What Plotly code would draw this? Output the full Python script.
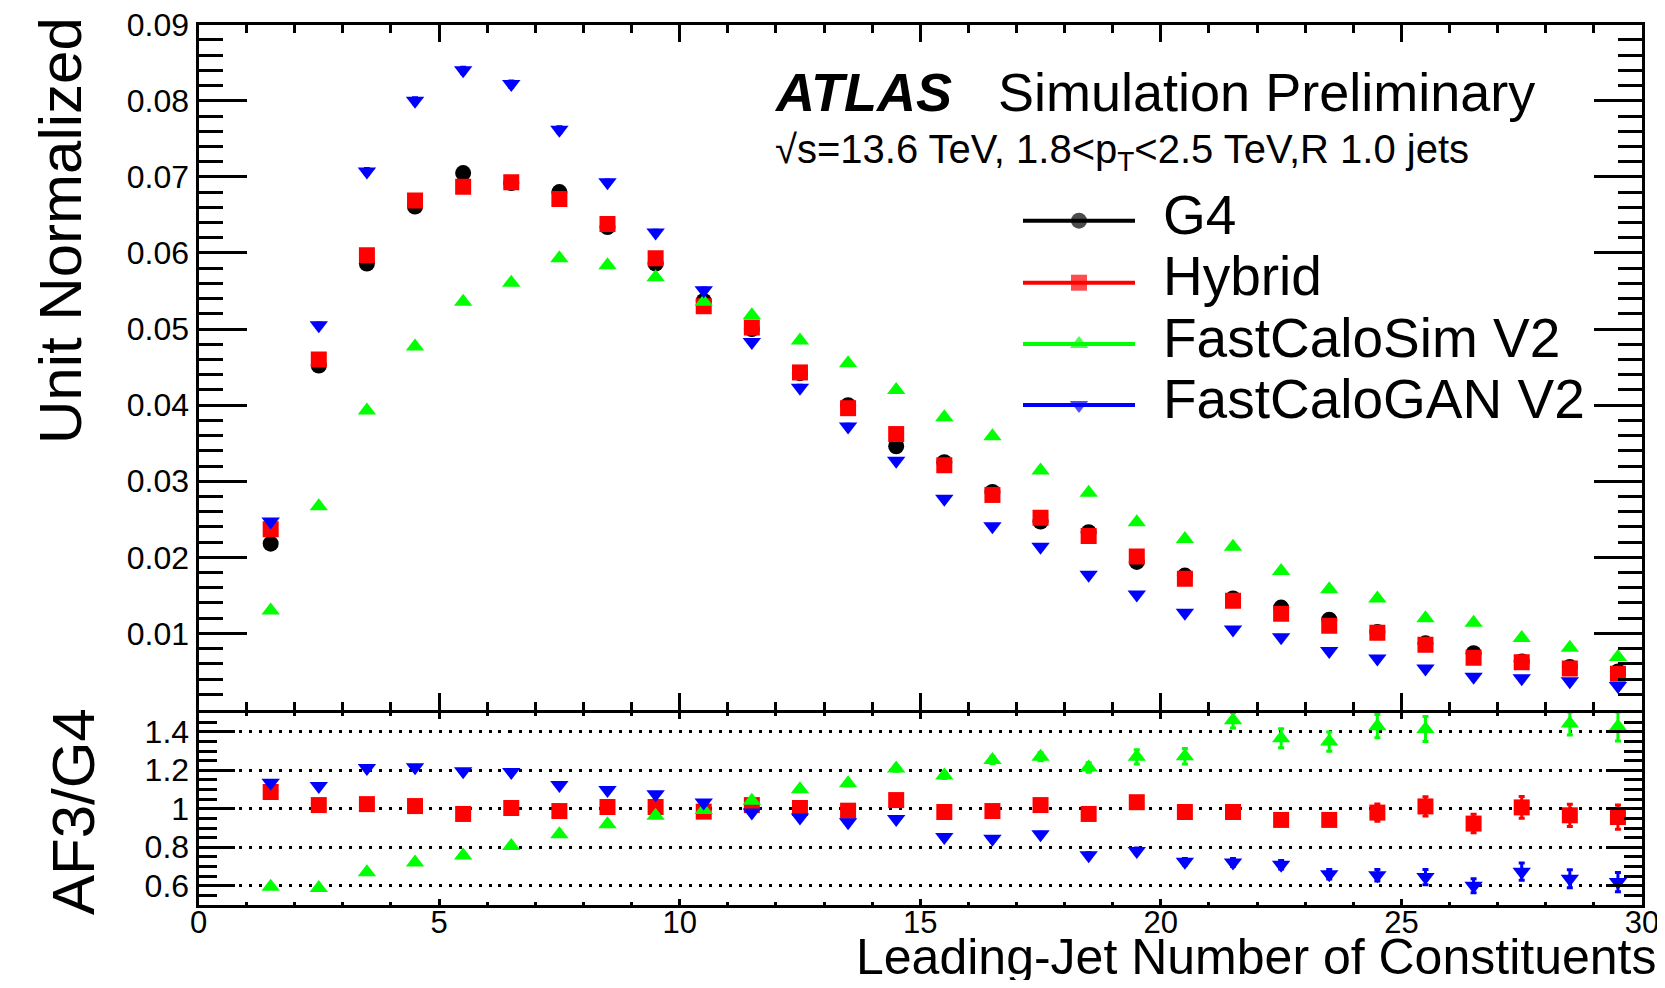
import plotly.graph_objects as go

# ---------------- data ----------------
bin_centers = [1.5, 2.5, 3.5, 4.5, 5.5, 6.5, 7.5, 8.5, 9.5, 10.5, 11.5, 12.5, 13.5, 14.5, 15.5,
               16.5, 17.5, 18.5, 19.5, 20.5, 21.5, 22.5, 23.5, 24.5, 25.5, 26.5, 27.5, 28.5, 29.5]

g4 = [0.0218, 0.0452, 0.0586, 0.0661, 0.0705, 0.0692, 0.0680, 0.0634, 0.0586, 0.0537,
      0.0500, 0.0442, 0.0400, 0.0346, 0.0325, 0.0286, 0.0247, 0.0233, 0.0194, 0.0176,
      0.0146, 0.0134, 0.0118, 0.0102, 0.0087, 0.0074, 0.0063, 0.0056, 0.0050]
hybrid = [0.0237, 0.0460, 0.0597, 0.0669, 0.0687, 0.0693, 0.0671, 0.0638, 0.0593, 0.0530,
          0.0502, 0.0443, 0.0396, 0.0362, 0.0321, 0.0282, 0.0252, 0.0228, 0.0201, 0.0172,
          0.0143, 0.0126, 0.0110, 0.0101, 0.0085, 0.0068, 0.0062, 0.0054, 0.0047]
fcs_v2 = [0.0130, 0.0267, 0.0393, 0.0477, 0.0536, 0.0561, 0.0593, 0.0584, 0.0568, 0.0536,
          0.0518, 0.0485, 0.0455, 0.0420, 0.0384, 0.0359, 0.0314, 0.0285, 0.0246, 0.0224,
          0.0214, 0.0182, 0.0158, 0.0146, 0.0120, 0.0114, 0.0094, 0.0081, 0.0069]
gan_v2 = [0.0247, 0.0505, 0.0707, 0.0800, 0.0840, 0.0822, 0.0762, 0.0693, 0.0627, 0.0551,
          0.0483, 0.0423, 0.0372, 0.0327, 0.0277, 0.0241, 0.0214, 0.0177, 0.0151, 0.0127,
          0.0105, 0.0095, 0.0077, 0.0067, 0.0054, 0.0043, 0.0041, 0.0037, 0.0031]
gan_v2_err = [0.0002, 0.0003, 0.0004, 0.0004, 0.0004, 0.0004, 0.0004, 0.0003, 0.0003, 0.0003,
              0.0003, 0.0003, 0.0003, 0.0002, 0.0002, 0.0002, 0.0002, 0.0002, 0.0002, 0.0002,
              0.0002, 0.0002, 0.0001, 0.0001, 0.0001, 0.0001, 0.0001, 0.0001, 0.0001]

ratio_hybrid = [1.087, 1.019, 1.024, 1.014, 0.973, 1.004, 0.988, 1.009, 1.009, 0.985,
                1.019, 1.004, 0.990, 1.045, 0.983, 0.988, 1.019, 0.973, 1.034, 0.983,
                0.983, 0.942, 0.942, 0.980, 1.012, 0.923, 1.007, 0.966, 0.957]
ratio_hybrid_err = [0.004, 0.003, 0.003, 0.003, 0.003, 0.003, 0.003, 0.003, 0.004, 0.004,
                    0.004, 0.005, 0.005, 0.006, 0.007, 0.008, 0.009, 0.010, 0.012, 0.014,
                    0.016, 0.020, 0.025, 0.045, 0.050, 0.048, 0.056, 0.058, 0.063]
ratio_fcs = [0.595, 0.588, 0.670, 0.721, 0.757, 0.807, 0.868, 0.920, 0.964, 0.993,
             1.041, 1.101, 1.132, 1.209, 1.173, 1.253, 1.270, 1.214, 1.270, 1.273,
             1.460, 1.366, 1.349, 1.429, 1.414, 1.600, 1.600, 1.443, 1.427]
ratio_fcs_err = [0.004, 0.004, 0.004, 0.005, 0.005, 0.005, 0.006, 0.006, 0.007, 0.008,
                 0.009, 0.010, 0.012, 0.014, 0.016, 0.018, 0.021, 0.025, 0.037, 0.040,
                 0.040, 0.049, 0.050, 0.060, 0.065, 0.070, 0.070, 0.060, 0.075]
ratio_gan = [1.135, 1.118, 1.212, 1.215, 1.195, 1.191, 1.123, 1.097, 1.075, 1.032,
             0.981, 0.955, 0.930, 0.947, 0.853, 0.844, 0.867, 0.759, 0.781, 0.725,
             0.721, 0.709, 0.660, 0.655, 0.645, 0.600, 0.673, 0.636, 0.619]
ratio_gan_err = [0.004, 0.004, 0.004, 0.004, 0.004, 0.004, 0.004, 0.005, 0.005, 0.005,
                 0.006, 0.006, 0.007, 0.008, 0.009, 0.010, 0.011, 0.013, 0.015, 0.017,
                 0.020, 0.022, 0.025, 0.030, 0.040, 0.037, 0.045, 0.047, 0.050]

series_names = ["G4", "Hybrid", "FastCaloSim V2", "FastCaloGAN V2"]
series_colors = ["#000000", "#ff0000", "#00ff00", "#0000ff"]
series_symbols = ["circle", "square", "triangle-up", "triangle-down"]
top_tickvals = [0.01, 0.02, 0.03, 0.04, 0.05, 0.06, 0.07, 0.08, 0.09]
top_ticktext = ["0.01", "0.02", "0.03", "0.04", "0.05", "0.06", "0.07", "0.08", "0.09"]
ratio_tickvals = [0.6, 0.8, 1.0, 1.2, 1.4]
ratio_ticktext = ["0.6", "0.8", "1", "1.2", "1.4"]

# ---------------- layout geometry (page pixels) ----------------
OFF = 8                      # default page body margin
W, H = 1665 - OFF, 988 - 2 * OFF
FONT = "Liberation Sans, Arial, Helvetica, sans-serif"
def fx(p):
    return (p - OFF) / W
def fy(p):
    return 1 - (p - OFF) / H

X_L, X_R = 198.5, 1642
TOP_T, MID_A, MID_B, BOT = 24.7, 709.5, 712.5, 905
msize = {"circle": 16, "square": 16, "triangle-up": 16, "triangle-down": 16}

fig = go.Figure()

top_series = [g4, hybrid, fcs_v2, gan_v2]
top_err = [None, None, None, gan_v2_err]
for name, vals, err, col, sym in zip(series_names, top_series, top_err, series_colors, series_symbols):
    fig.add_trace(go.Scatter(
        x=bin_centers, y=vals, mode="markers", name=name, showlegend=False,
        marker=dict(symbol=sym, color=col, size=msize[sym], line=dict(width=0)),
        error_y=(dict(type="data", array=err, color=col, thickness=3, width=3) if err else None),
        xaxis="x", yaxis="y"))

ratio_series = [(ratio_hybrid, ratio_hybrid_err, 1), (ratio_fcs, ratio_fcs_err, 2), (ratio_gan, ratio_gan_err, 3)]
for vals, err, i in ratio_series:
    sym = series_symbols[i]
    fig.add_trace(go.Scatter(
        x=bin_centers, y=vals, mode="markers", name=series_names[i] + " / G4", showlegend=False,
        marker=dict(symbol=sym, color=series_colors[i], size=msize[sym], line=dict(width=0)),
        error_y=dict(type="data", array=err, color=series_colors[i], thickness=3, width=3),
        xaxis="x2", yaxis="y2"))

# ---------------- custom legend (ROOT style) ----------------
leg_line_y = [220.7, 282.7, 344.0, 405.0]
leg_text_y = [215.0, 276.0, 338.0, 399.0]
LEG_X0, LEG_XM, LEG_X1, LEG_TX = 1023, 1079, 1135, 1161
for name, col, sym, ly in zip(series_names, series_colors, series_symbols, leg_line_y):
    fig.add_trace(go.Scatter(
        x=[LEG_X0, LEG_XM, LEG_X1], y=[ly, ly, ly], mode="lines+markers", showlegend=False,
        hoverinfo="skip", line=dict(color=col, width=4),
        marker=dict(symbol=sym, color=col, size=[0, msize[sym], 0], line=dict(width=0)),
        xaxis="x3", yaxis="y3"))

axis_common = dict(showline=True, linecolor="black", linewidth=3, mirror="allticks",
                   ticks="inside", tickcolor="black", tickwidth=3, showgrid=False,
                   zeroline=False, automargin=False, ticklabeloverflow="allow",
                   tickfont=dict(family=FONT, size=32, color="black"))

fig.update_layout(
    width=W, height=H, margin=dict(l=0, r=0, t=0, b=0, autoexpand=False),
    paper_bgcolor="white", plot_bgcolor="rgba(0,0,0,0)",
    showlegend=False,
    xaxis=dict(domain=[fx(X_L), fx(X_R)], range=[0, 30], anchor="y", showticklabels=False,
               tick0=0, dtick=5, ticklen=17,
               minor=dict(ticks="inside", ticklen=8, tickwidth=3, tickcolor="black", dtick=1, tick0=0),
               **axis_common),
    yaxis=dict(domain=[fy(MID_A), fy(TOP_T)], range=[0, 0.090001], anchor="x",
               tickmode="array", tickvals=top_tickvals, ticktext=top_ticktext, ticklen=48,
               minor=dict(ticks="inside", ticklen=24, tickwidth=3, tickcolor="black",
                          tickmode="linear", dtick=0.002, tick0=0),
               **axis_common),
    xaxis2=dict(domain=[fx(X_L), fx(X_R)], range=[0, 30], anchor="y2",
                tick0=0, dtick=5, ticklen=6, ticklabelstandoff=-12,
                minor=dict(ticks="inside", ticklen=3, tickwidth=3, tickcolor="black", dtick=1, tick0=0),
                **{**axis_common, "tickfont": dict(family=FONT, size=31, color="black")}),
    yaxis2=dict(domain=[fy(BOT), fy(MID_B)], range=[0.5, 1.5], anchor="x2",
                tickmode="array", tickvals=ratio_tickvals, ticktext=ratio_ticktext, ticklen=36,
                minor=dict(ticks="inside", ticklen=18, tickwidth=3, tickcolor="black",
                           tickmode="linear", dtick=0.05, tick0=0),
                **{**axis_common, "showgrid": True, "gridcolor": "black", "gridwidth": 3,
                   "griddash": "3px,7px"}),
    xaxis3=dict(domain=[0, 1], range=[OFF, OFF + W], anchor="y3", visible=False, fixedrange=True),
    yaxis3=dict(domain=[0, 1], range=[OFF + H, OFF], anchor="x3", visible=False, fixedrange=True),
)

annotations = [
    dict(text="<b><i>ATLAS</i></b>", x=fx(772), y=fy(91.7), xanchor="left", yanchor="middle",
         font=dict(family=FONT, size=54, color="black")),
    dict(text="Simulation Preliminary", x=fx(996), y=fy(91.7), xanchor="left", yanchor="middle",
         font=dict(family=FONT, size=54, color="black")),
    dict(text="√s=13.6 TeV, 1.8&lt;p<sub>T</sub>&lt;2.5 TeV,R 1.0 jets", x=fx(773), y=fy(152),
         xanchor="left", yanchor="middle", font=dict(family=FONT, size=40, color="black")),
    dict(text="Unit Normalized", x=fx(61), y=fy(231), textangle=-90, xanchor="center", yanchor="middle",
         font=dict(family=FONT, size=60, color="black")),
    dict(text="AF3/G4", x=fx(73), y=fy(812), textangle=-90, xanchor="center", yanchor="middle",
         font=dict(family=FONT, size=60, color="black")),
    dict(text="Leading-Jet Number of Constituents", x=fx(1658), y=fy(957), xanchor="right",
         yanchor="middle", font=dict(family=FONT, size=50, color="black")),
]
for name, ty in zip(series_names, leg_text_y):
    annotations.append(dict(text=name, x=fx(LEG_TX), y=fy(ty), xanchor="left", yanchor="middle",
                            font=dict(family=FONT, size=55, color="black")))
for a in annotations:
    a.update(xref="paper", yref="paper", showarrow=False)
fig.update_layout(annotations=annotations)

fig.write_html("out.html")
